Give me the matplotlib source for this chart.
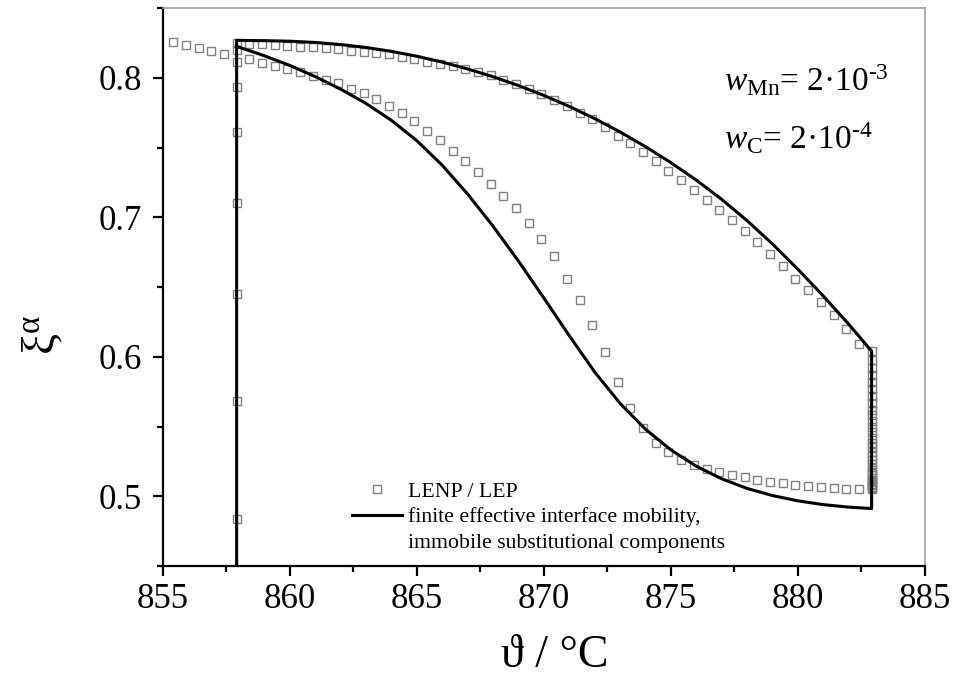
import matplotlib
matplotlib.use('Agg')
import matplotlib.pyplot as plt
from matplotlib.lines import Line2D
import numpy as np

plt.rcParams['font.family'] = ['Liberation Serif', 'DejaVu Serif']
plt.rcParams['mathtext.fontset'] = 'custom'
plt.rcParams['mathtext.rm'] = 'Liberation Serif'
plt.rcParams['mathtext.it'] = 'Liberation Serif:italic'

# --- data ---
T_start = 857.9      # start of transformation
T_end = 882.9        # end of heating
xi_bottom = 0.45

# solid line: upper branch (heating)
up_T = [857.9, 859, 860, 861, 862, 863, 864, 865, 866, 867, 868, 869, 870, 871,
        872, 873, 874, 875, 876, 877, 878, 879, 880, 881, 882, 882.9]
up_xi = [0.8268, 0.8266, 0.8262, 0.8253, 0.8238, 0.8217, 0.8189, 0.8154, 0.8112, 0.8063,
         0.8007, 0.7944, 0.7873, 0.7794, 0.7707, 0.7611, 0.7506, 0.7391, 0.7266, 0.7128,
         0.6975, 0.6808, 0.6627, 0.6435, 0.6233, 0.604]
# solid line: lower branch (cooling)
lo_T = [882.9, 882, 881, 880, 879, 878, 877, 876, 875, 874, 873, 872, 871, 870,
        869, 868, 867, 866, 865, 864, 863, 862, 861, 860, 859, 858, 857.9]
lo_xi = [0.4912, 0.4922, 0.4940, 0.4967, 0.5005, 0.5056, 0.5125, 0.5215, 0.5332, 0.5480,
         0.5665, 0.5890, 0.6150, 0.6420, 0.6685, 0.6935, 0.7165, 0.7372, 0.7548, 0.7694,
         0.7815, 0.7918, 0.8008, 0.8088, 0.8157, 0.8219, 0.8225]

# squares LENP / LEP
sq_left_T = [855.4, 855.9, 856.4, 856.9, 857.4]
sq_left_xi = [0.8258, 0.8234, 0.8211, 0.8191, 0.817]
sq_vleft_xi = [0.4837, 0.5686, 0.6452, 0.710, 0.7612, 0.7935, 0.8115, 0.820, 0.8247]
sq_up_T = [858.4, 858.9, 859.4, 859.9, 860.4, 860.9, 861.4, 861.9, 862.4, 862.9,
           863.4, 863.9, 864.4, 864.9, 865.4, 865.9, 866.4, 866.9, 867.4, 867.9,
           868.4, 868.9, 869.4, 869.9, 870.4, 870.9, 871.4, 871.9, 872.4, 872.9,
           873.4, 873.9, 874.4, 874.9, 875.4, 875.9, 876.4, 876.9, 877.4, 877.9,
           878.4, 878.9, 879.4, 879.9, 880.4, 880.9, 881.4, 881.9, 882.4]
sq_up_xi = [0.8242, 0.8242, 0.8234, 0.8227, 0.8222, 0.8218, 0.8211, 0.8203, 0.8193, 0.8186,
            0.8179, 0.8167, 0.815, 0.8133, 0.8116, 0.8102, 0.8084, 0.8065, 0.8043, 0.8018,
            0.7987, 0.7955, 0.7921, 0.7882, 0.784, 0.7799, 0.775, 0.7701, 0.7645, 0.7584,
            0.753, 0.7466, 0.74, 0.7332, 0.7266, 0.7198, 0.7125, 0.7053, 0.6978, 0.69,
            0.6822, 0.6734, 0.6651, 0.6558, 0.648, 0.639, 0.630, 0.6198, 0.6092]
sq_vright_xi = [0.604, 0.598, 0.592, 0.587, 0.582, 0.577, 0.572, 0.567, 0.562, 0.558,
                0.554, 0.550, 0.546, 0.542, 0.538, 0.535, 0.532, 0.529, 0.526, 0.523,
                0.521, 0.519, 0.517, 0.515, 0.513, 0.512, 0.511, 0.510, 0.509, 0.508,
                0.507, 0.506, 0.505]
sq_lo_T = sq_up_T[::-1]
sq_lo_xi = [0.5049, 0.5052, 0.5056, 0.5064, 0.5071, 0.5081, 0.5092, 0.5104, 0.5119, 0.5136,
            0.5152, 0.5171, 0.5196, 0.5227, 0.5262, 0.5315, 0.5379, 0.5487, 0.5634, 0.5817,
            0.6033, 0.623, 0.641, 0.6558, 0.6724, 0.6844, 0.6961, 0.7064, 0.7156, 0.7242,
            0.7323, 0.74, 0.7478, 0.7552, 0.762, 0.7687, 0.7744, 0.7797, 0.7845, 0.7892,
            0.7923, 0.7959, 0.7983, 0.8014, 0.8038, 0.8062, 0.8084, 0.8107, 0.8132]

# build paths
line_T = [T_start] + up_T + lo_T
line_xi = [xi_bottom] + up_xi + lo_xi
sq_T = ([T_start] * len(sq_vleft_xi) + sq_up_T + [T_end] * len(sq_vright_xi)
        + sq_lo_T + sq_left_T[::-1])
sq_xi = sq_vleft_xi + sq_up_xi + sq_vright_xi + sq_lo_xi + sq_left_xi[::-1]

fig = plt.figure(figsize=(9.62, 6.85), dpi=100)
ax = fig.add_axes([0.1694, 0.1737, 0.7921, 0.8146])

sq_style = dict(ls='none', marker='s', ms=6.2, mfc='none', mec='#808080', mew=1.0)
ax.plot(sq_T, sq_xi, **sq_style)
ax.plot(line_T, line_xi, color='black', lw=2.2, solid_joinstyle='round')

ax.set_xlim(855, 885)
ax.set_ylim(0.45, 0.85)
ax.set_xticks(np.arange(855, 886, 5))
ax.set_xticks(np.arange(857.5, 885, 5), minor=True)
ax.set_yticks([0.5, 0.6, 0.7, 0.8])
ax.set_yticks([0.45, 0.55, 0.65, 0.75, 0.85], minor=True)
ax.yaxis.set_major_formatter(matplotlib.ticker.FormatStrFormatter('%.1f'))

for s in ['left', 'bottom']:
    ax.spines[s].set_linewidth(1.6)
for s in ['top', 'right']:
    ax.spines[s].set_linewidth(1.2)
    ax.spines[s].set_color('#a0a0a0')
ax.tick_params(which='both', direction='out', width=1.6, labelsize=25, top=False, right=False)
ax.tick_params(which='major', length=7)
ax.tick_params(which='minor', length=4)
ax.tick_params(axis='x', which='major', pad=5)
ax.tick_params(axis='y', which='major', pad=8)

ax.set_xlabel('ϑ / °C', fontsize=33)
ax.xaxis.set_label_coords(0.514, -0.122)
ax.set_ylabel(r'$\mathrm{\xi}^{\mathrm{\alpha}}$', fontsize=34)
ax.yaxis.set_label_coords(-0.128, 0.414)

ax.text(0.736, 0.851, r'$w_{\mathrm{Mn}}$= 2·10$^{\mathrm{‐3}}$', transform=ax.transAxes,
        fontsize=24, va='baseline')
ax.text(0.736, 0.747, r'$w_{\mathrm{C}}$= 2·10$^{\mathrm{‐4}}$', transform=ax.transAxes,
        fontsize=24, va='baseline')

handles = [Line2D([], [], **sq_style),
           Line2D([], [], color='black', lw=2.2),
           Line2D([], [], ls='none')]
labels = ['LENP / LEP', 'finite effective interface mobility,', 'immobile substitutional components']
ax.legend(handles, labels, loc='lower left', bbox_to_anchor=(0.248, 0.023), frameon=False,
          fontsize=15.7, handlelength=2.3, handletextpad=0.28, labelspacing=0.25,
          borderpad=0, borderaxespad=0)

fig.savefig('out.png', dpi=100)
